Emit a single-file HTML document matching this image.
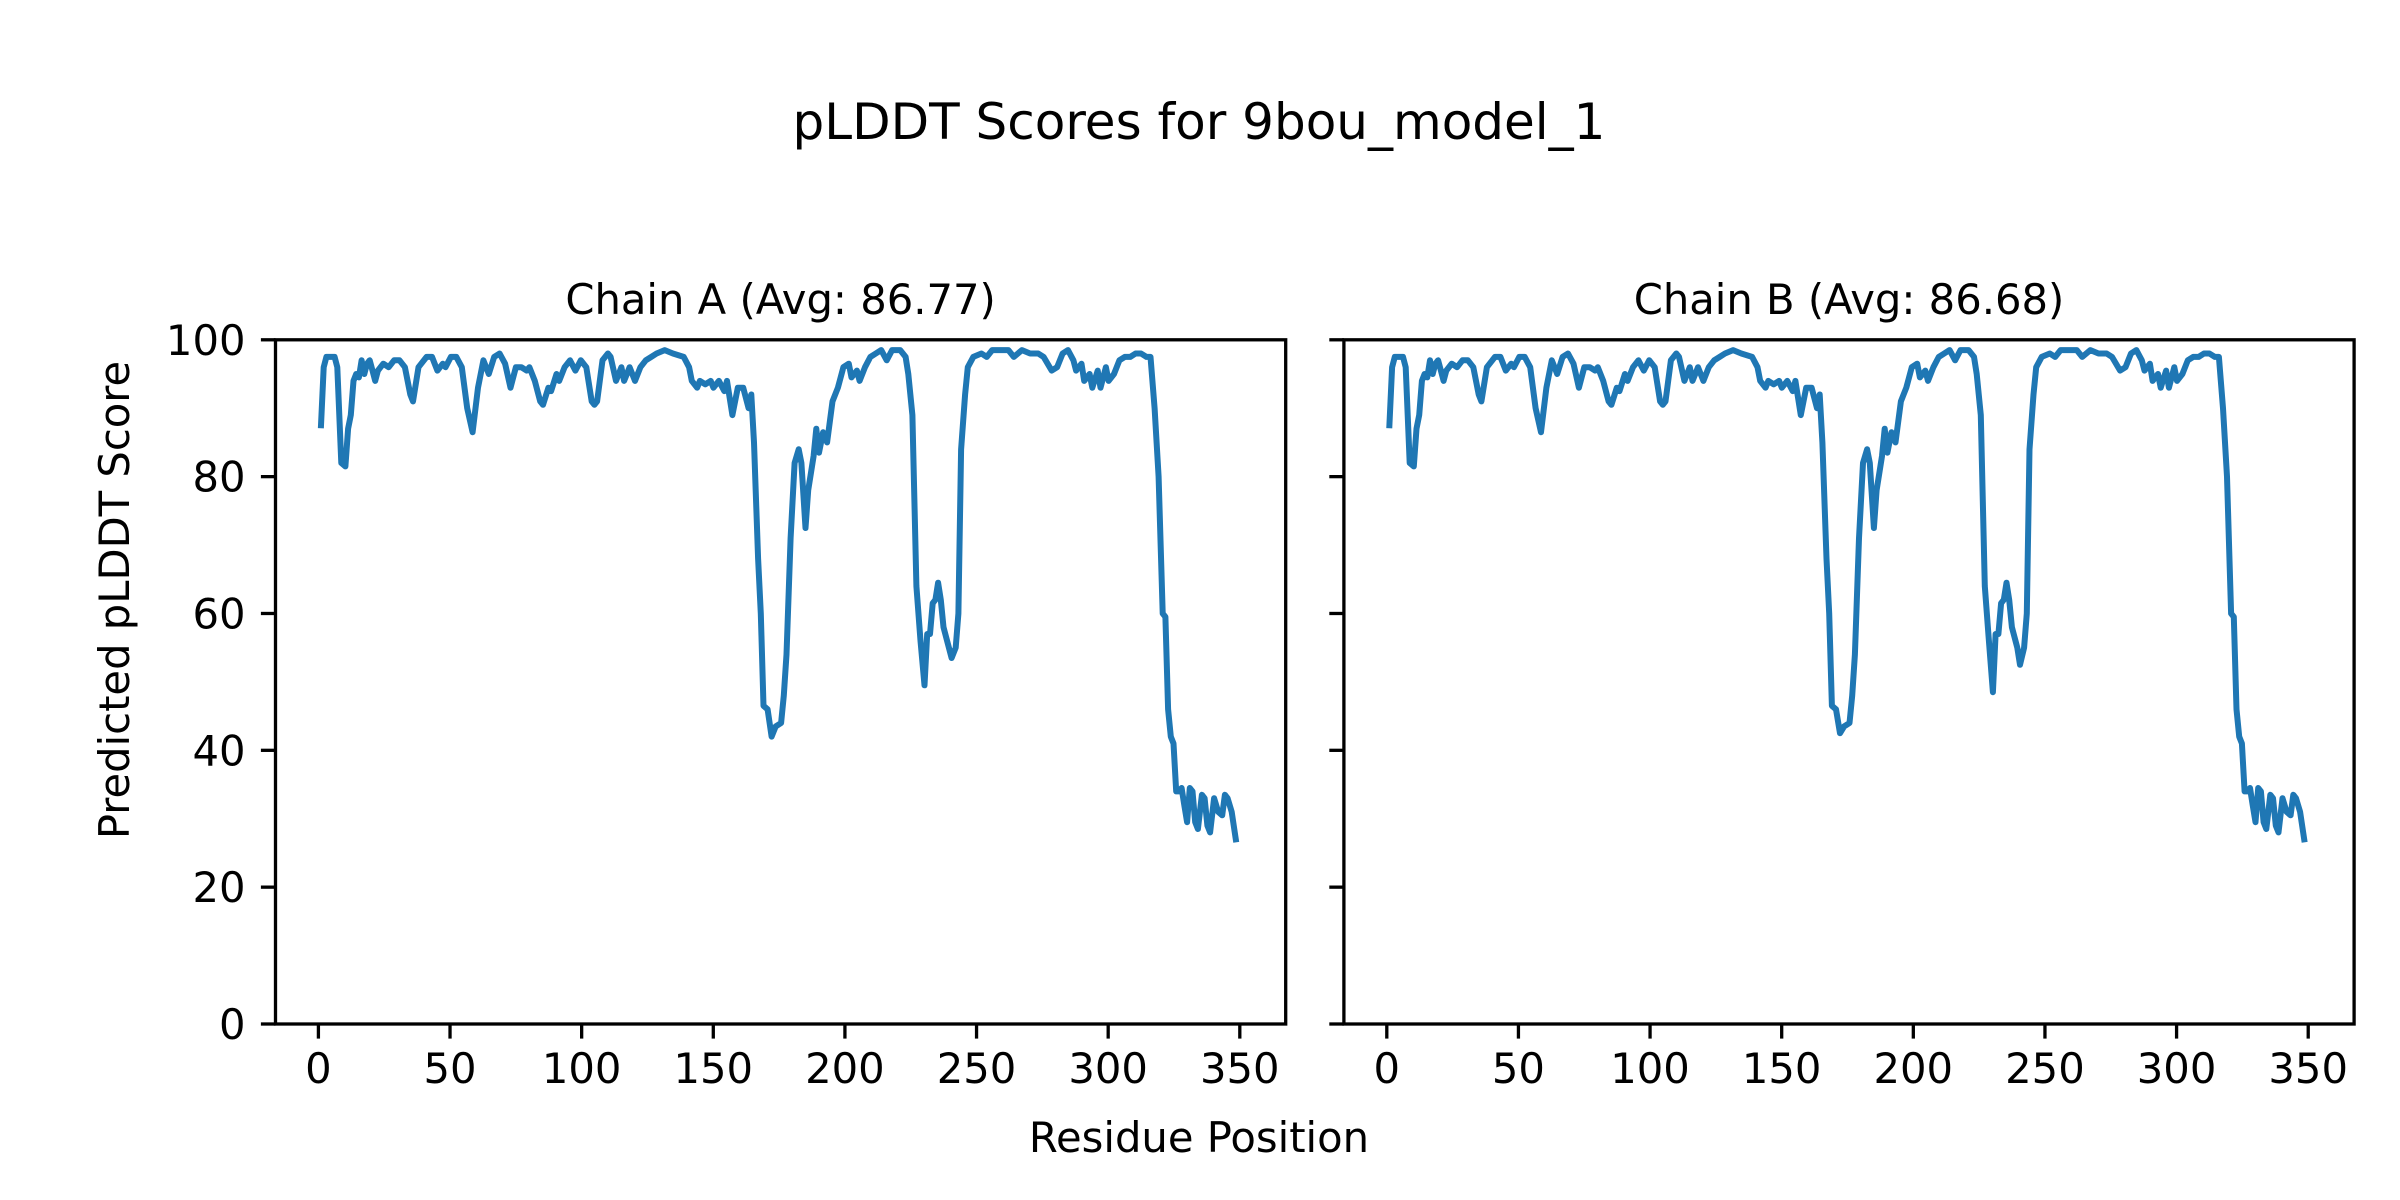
<!DOCTYPE html>
<html><head><meta charset="utf-8"><style>
html,body{margin:0;padding:0;background:#fff;}
svg{display:block;font-family:"DejaVu Sans","Liberation Sans",sans-serif;}
</style></head><body>
<svg id="s" width="2400" height="1200" xmlns="http://www.w3.org/2000/svg">
<rect width="2400" height="1200" fill="#fff"/>
<text x="1199" y="139" font-size="50" text-anchor="middle">pLDDT Scores for 9bou_model_1</text>
<text x="780.6" y="314" font-size="41.7" text-anchor="middle">Chain A (Avg: 86.77)</text>
<text x="1849" y="314" font-size="41.7" text-anchor="middle">Chain B (Avg: 86.68)</text>
<text x="1199" y="1152" font-size="41.7" text-anchor="middle">Residue Position</text>
<text transform="translate(129,600) rotate(-90)" font-size="41.7" text-anchor="middle">Predicted pLDDT Score</text>
<g id="g"></g>
</svg>
<script>
var A=[[1,87.5],[2,96],[3,97.5],[6,97.5],[7,96],[8.5,82],[10,81.5],[11,87],[12,89],[13,94],[14,95],[15,94.5],[16,97],[17,95],[18,96.5],[19,97],[20,95.5],[21,94],[22,95.5],[24,96.5],[26,96],[28,97],[30,97],[32,96],[34,92],[35,91],[37,96],[40,97.5],[42,97.5],[44,95.5],[46,96.5],[47,96],[49,97.5],[51,97.5],[53,96],[55,90],[57,86.5],[59,93],[61,97],[63,95],[65,97.5],[67,98],[69,96.5],[71,93],[73,96],[75,96],[77,95.5],[78,96],[80,94],[82,91],[83,90.5],[85,93],[86,92.5],[88,95],[89,94],[91,96],[93,97],[95,95.5],[97,97],[99,96],[101,91],[102,90.5],[103,91],[105,97],[107,98],[108,97.5],[110,94],[112,96],[113,94],[115,96],[117,94],[119,96],[121,97],[123,97.5],[125,98],[128,98.5],[131,98],[135,97.5],[137,96],[138,94],[140,93],[141,94],[143,93.5],[145,94],[146,93],[148,94],[150,92.5],[151,94],[153,89],[155,93],[157,93],[159,90],[160,92],[161,85],[162.5,68],[163.5,60],[164.5,46.5],[166,46],[167.5,42],[169,43.5],[171,44],[172,48],[173,54],[174.5,71],[176,82],[177.5,84],[178.5,82],[180,72.5],[181,78],[183,83],[184,87],[185,83.5],[186.5,86.5],[188,85],[189,88],[190,91],[192,93],[194,96],[196,96.5],[197,94.5],[199,95.5],[200,94],[202,96],[204,97.5],[206,98],[208,98.5],[210,97],[212,98.5],[215,98.5],[217,97.5],[218,95],[219.5,89],[221,64],[222.5,56],[224,49.5],[225,57],[226,57],[227,61.5],[228,62],[229,64.5],[230,62],[231,58],[233,55],[234,53.5],[235.5,55],[236.5,60],[237.5,84],[239,92],[240,96],[242,97.5],[245,98],[247,97.5],[249,98.5],[252,98.5],[255,98.5],[257,97.5],[260,98.5],[263,98],[266,98],[268,97.5],[271,95.5],[273,96],[275,98],[277,98.5],[279,97],[280,95.5],[282,96.5],[283,94],[285,95],[286,93],[288,95.5],[289,93],[291,96],[292,94],[294,95],[296,97],[298,97.5],[300,97.5],[302,98],[304,98],[306,97.5],[307.5,97.5],[309,90],[310.5,80],[312,60],[313,59.5],[314,46],[315,42],[316,41],[317,34],[318,34],[319,34.5],[320,32],[321,29.5],[322,34.5],[323,34],[324,29.5],[325,28.5],[326.5,33.5],[327.5,33],[328.5,29],[329.5,28],[331,33],[332.5,31],[334,30.5],[335,33.5],[336,33],[337.5,31],[339,27]];
var B=A.map(function(p){var v=p[1];if(p[0]==167.5)v=42.5;if(p[0]==224)v=48.5;if(p[0]==234)v=52.5;return [p[0],v];});
var g=document.getElementById('g'),h='';
function panel(x0,data,lab){
  var L=x0,R=x0+1010.2,T=339.8,Bt=1024;
  function X(d){return x0+42.9+d*2.6326;}
  function RX(r){return X(1+(r-1)*1.028);}
  function Y(v){return Bt-v*6.842;}
  var pts=data.map(function(p){return RX(p[0]).toFixed(1)+','+Y(p[1]).toFixed(1);}).join(' ');
  h+='<polyline points="'+pts+'" fill="none" stroke="#1f77b4" stroke-width="6" stroke-linejoin="round" stroke-linecap="square"/>';
  h+='<rect x="'+L+'" y="'+T+'" width="'+(R-L)+'" height="'+(Bt-T)+'" fill="none" stroke="#000" stroke-width="3.3"/>';
  for(var t=0;t<=350;t+=50){var x=X(t);h+='<line x1="'+x+'" y1="'+Bt+'" x2="'+x+'" y2="'+(Bt+14.6)+'" stroke="#000" stroke-width="3.3"/>';
    h+='<text x="'+x+'" y="1083" font-size="41.7" text-anchor="middle">'+t+'</text>';}
  for(var v=0;v<=100;v+=20){var y=Y(v);h+='<line x1="'+(L-14.6)+'" y1="'+y+'" x2="'+L+'" y2="'+y+'" stroke="#000" stroke-width="3.3"/>';
    if(lab)h+='<text x="'+(L-30)+'" y="'+(y+15)+'" font-size="41.7" text-anchor="end">'+v+'</text>';}
}
panel(275.5,A,true);panel(1343.9,B,false);
g.innerHTML=h;
</script>
</body></html>
